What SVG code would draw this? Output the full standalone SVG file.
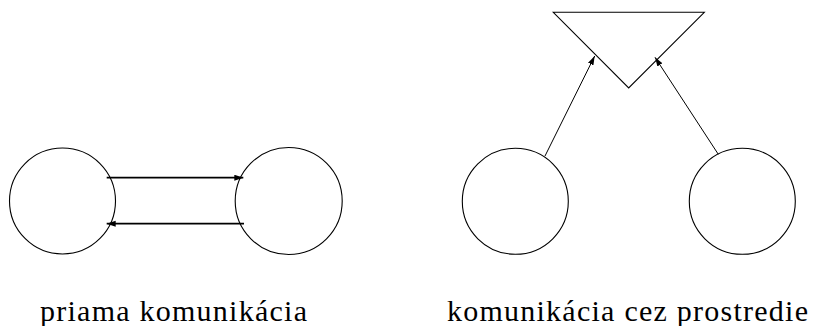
<svg xmlns="http://www.w3.org/2000/svg" width="816" height="326" viewBox="0 0 816 326">
<style>
.node{fill:#fff;stroke:#000;stroke-width:1.1}
.conn{fill:none;stroke:#000}
.thick{stroke-width:1.7}
.thin{stroke-width:1}
.lbl{font-size:30px;fill:#000}
</style>
<defs>
<marker id="ah" markerUnits="userSpaceOnUse" markerWidth="10" markerHeight="8" refX="9" refY="3" orient="auto">
<path d="M0,0 L9,3 L0,6 z" fill="#000"/>
</marker>
</defs>
<rect width="816" height="326" fill="#fff"/>
<g id="n1"><circle class="node" cx="62.5" cy="201" r="53"/></g>
<g id="n2"><circle class="node" cx="288.7" cy="201" r="53.5"/></g>
<g id="n3"><circle class="node" cx="515.3" cy="201.3" r="53"/></g>
<g id="n4"><circle class="node" cx="742.3" cy="201.3" r="53"/></g>
<g id="env"><polygon class="node" points="553.3,12.3 704.3,12.3 628.7,88"/></g>
<g id="connectors">
<line class="conn thick" x1="106.7" y1="177.7" x2="243.3" y2="177.7" marker-end="url(#ah)"/>
<line class="conn thick" x1="244" y1="223.7" x2="106.7" y2="223.7" marker-end="url(#ah)"/>
<line class="conn thin" x1="545" y1="156" x2="594.7" y2="56" marker-end="url(#ah)"/>
<line class="conn thin" x1="718.3" y1="154.3" x2="655" y2="57.3" marker-end="url(#ah)"/>
</g>
<g id="labels" font-family="Liberation Serif, Times New Roman, serif">
<text class="lbl" x="40" y="321" textLength="267" lengthAdjust="spacing">priama komunikácia</text>
<text class="lbl" x="447" y="321" textLength="361" lengthAdjust="spacing">komunikácia cez prostredie</text>
</g>
</svg>
